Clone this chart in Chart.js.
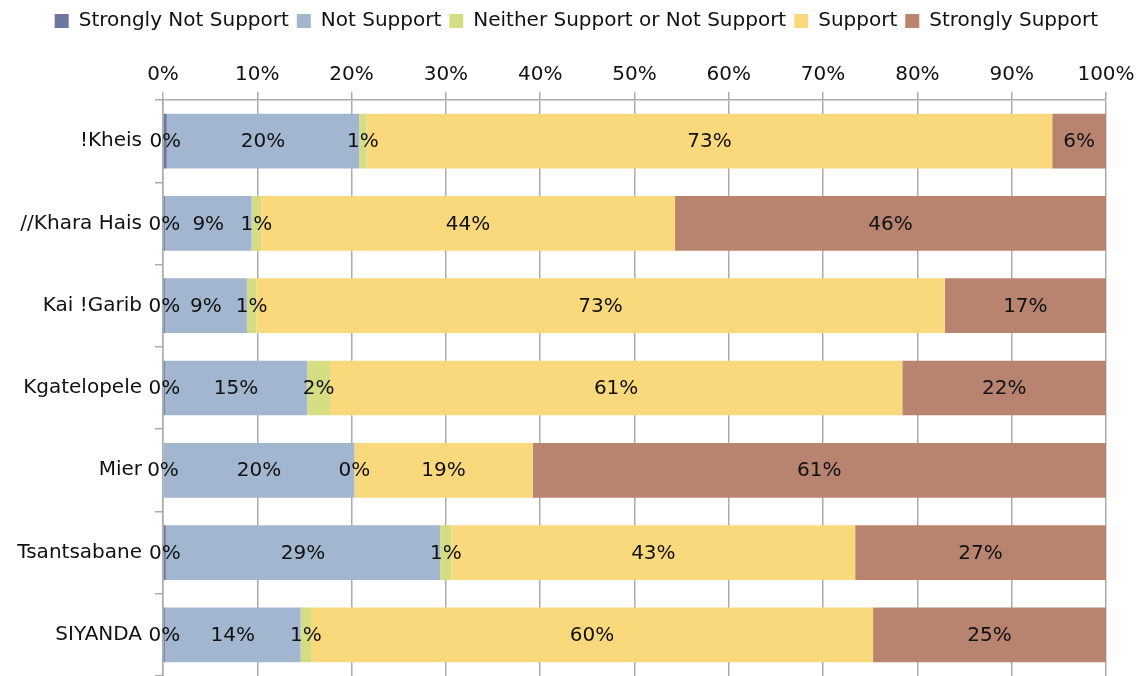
<!DOCTYPE html>
<html>
<head>
<meta charset="utf-8">
<script src="https://cdn.jsdelivr.net/npm/chart.js@4"></script>
<style>
  html, body { margin: 0; padding: 0; background: #fff; }
  #wrap { position: absolute; left: 0; top: 0; width: 1143px; height: 676px; }
</style>
</head>
<body>
<div id="wrap"><canvas id="chart"></canvas></div>
<script>
// Support levels per municipality (percent of respondents)
var categories = ['!Kheis', '//Khara Hais', 'Kai !Garib', 'Kgatelopele', 'Mier', 'Tsantsabane', 'SIYANDA'];
var stronglyNotSupport = [0.4, 0.2, 0.2, 0.2, 0.0, 0.3, 0.2];
var notSupport = [20.4, 9.2, 8.7, 15.1, 20.3, 29.1, 14.4];
var neitherSupport = [0.8, 1.0, 1.0, 2.4, 0.0, 1.2, 1.1];
var support = [72.7, 43.9, 73.0, 60.7, 18.9, 42.8, 59.6];
var stronglySupport = [5.7, 45.7, 17.1, 21.6, 60.8, 26.6, 24.7];
var xTicks = [0, 10, 20, 30, 40, 50, 60, 70, 80, 90, 100];

var FONT = 'DejaVu Sans';
var FONT_SIZE = 20;

// Draw the percent label in the middle of every segment
var segmentLabels = {
    id: 'segmentLabels',
    afterDatasetsDraw: function (chart) {
        var ctx = chart.ctx;
        ctx.save();
        ctx.font = FONT_SIZE + 'px "' + FONT + '"';
        ctx.fillStyle = '#111';
        ctx.textAlign = 'center';
        ctx.textBaseline = 'middle';
        chart.data.datasets.forEach(function (ds, i) {
            var meta = chart.getDatasetMeta(i);
            meta.data.forEach(function (bar, j) {
                var p = bar.getCenterPoint();
                ctx.fillText(Math.round(ds.data[j]) + '%', p.x, p.y + 1);
            });
        });
        ctx.restore();
    }
};

var ctx = document.getElementById('chart').getContext('2d');
new Chart(ctx, {
    type: 'bar',
    data: {
        labels: categories,
        datasets: [
            { label: 'Strongly Not Support', data: stronglyNotSupport, backgroundColor: '#6b77a0' },
            { label: 'Not Support', data: notSupport, backgroundColor: '#a2b7cf' },
            { label: 'Neither Support or Not Support', data: neitherSupport, backgroundColor: '#d4dd84' },
            { label: 'Support', data: support, backgroundColor: '#fad97c' },
            { label: 'Strongly Support', data: stronglySupport, backgroundColor: '#b8846f' }
        ]
    },
    options: {
        indexAxis: 'y',
        responsive: true,
        maintainAspectRatio: false,
        animation: false,
        layout: { padding: { left: 0, right: 37, top: 3, bottom: -10 } },
        datasets: {
            bar: { categoryPercentage: 1, barPercentage: 0.665 }
        },
        plugins: {
            tooltip: { enabled: false },
            legend: {
                position: 'top',
                align: 'end',
                labels: {
                    color: '#111',
                    boxWidth: 14,
                    boxHeight: 14,
                    padding: 8,
                    font: { family: FONT, size: FONT_SIZE }
                }
            }
        },
        scales: {
            x: {
                position: 'top',
                stacked: true,
                min: 0,
                max: 100,
                afterBuildTicks: function (scale) {
                    scale.ticks = xTicks.map(function (v) { return { value: v }; });
                },
                afterFit: function (scale) {
                    scale.height = 59;
                    scale.paddingLeft = 0;
                    scale.paddingRight = 0;
                },
                ticks: {
                    color: '#111',
                    padding: 5,
                    font: { family: FONT, size: FONT_SIZE },
                    callback: function (v) { return v + '%'; }
                },
                grid: { color: '#ababab', lineWidth: 1.5, tickLength: 8 },
                border: { color: '#ababab', width: 1.5 }
            },
            y: {
                stacked: true,
                afterFit: function (scale) {
                    scale.width = 163;
                    scale.paddingTop = 0;
                    scale.paddingBottom = 0;
                },
                ticks: {
                    color: '#111',
                    padding: 13,
                    font: { family: FONT, size: FONT_SIZE }
                },
                grid: { drawOnChartArea: false, color: '#ababab', lineWidth: 1.5, tickLength: 8 },
                border: { color: '#ababab', width: 1.5 }
            }
        }
    },
    plugins: [segmentLabels]
});
</script>
</body>
</html>
